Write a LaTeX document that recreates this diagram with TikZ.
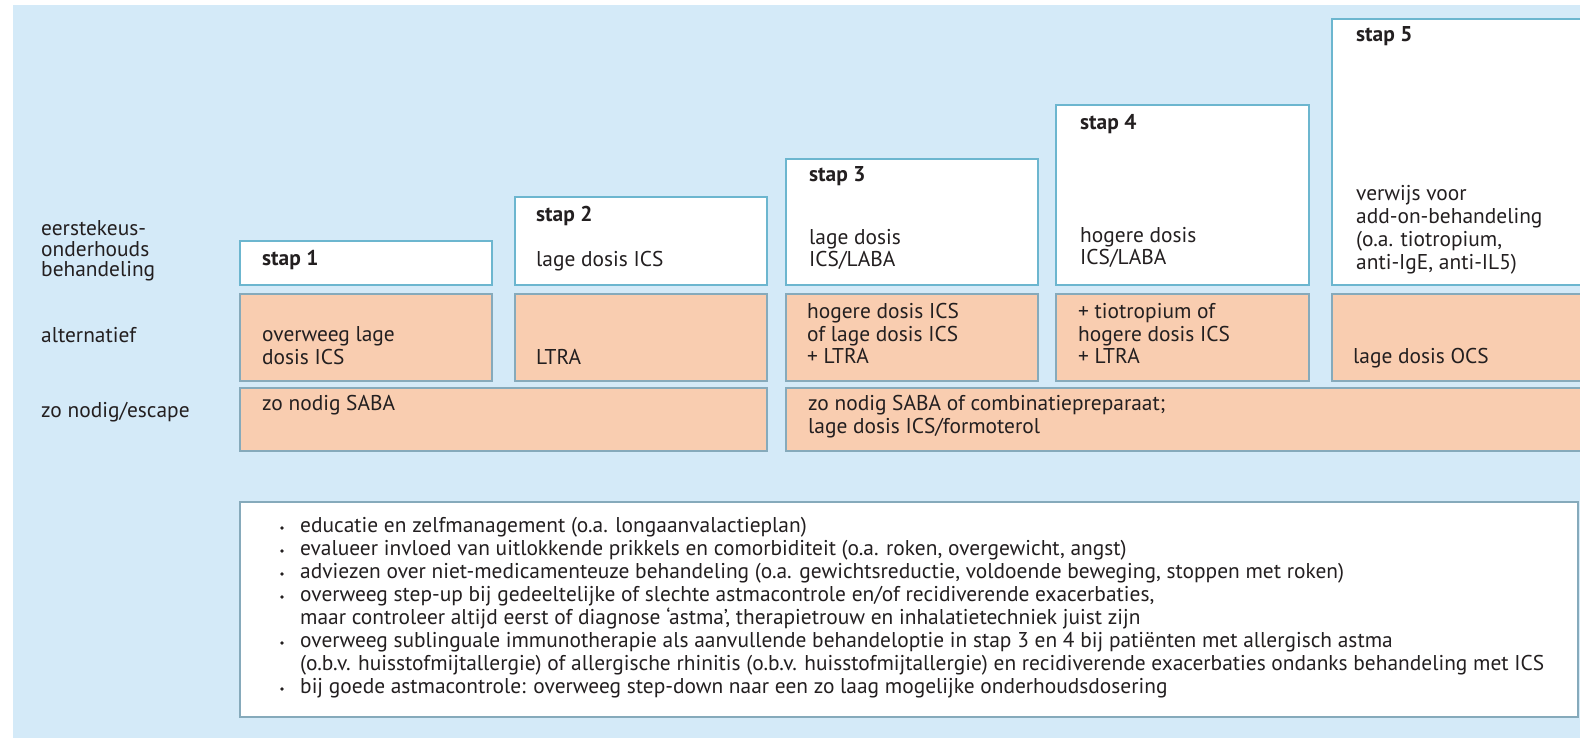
\documentclass[tikz,border=0pt]{standalone}
\usepackage{fontspec}
\setmainfont{PT Sans}
\definecolor{bg}{HTML}{D4EAF8}
\definecolor{bordc}{HTML}{6CB6CF}
\definecolor{pbord}{HTML}{86AABB}
\definecolor{peach}{HTML}{F9CDB0}
\definecolor{txtc}{HTML}{231F20}
\begin{document}
\begin{tikzpicture}[x=1pt,y=-1pt,
  txt/.style={anchor=mid west, inner sep=0pt, font=\fontsize{21.4}{23}\selectfont, text=txtc},
  hd/.style={txt, font=\fontsize{21.4}{23}\selectfont\bfseries},
  bul/.style={circle, fill=txtc, inner sep=0pt, minimum size=3.6pt},
  wbox/.style={fill=white, draw=bordc, line width=1.6pt},
  pbox/.style={fill=peach, draw=pbord, line width=1.6pt},
  nbox/.style={fill=white, draw=pbord, line width=1.6pt},
]
\useasboundingbox (0,0) rectangle (1580,737);
\clip (0,0) rectangle (1580,737);
\fill[white] (0,0) rectangle (1580,737);
\fill[bg] (13,5) rectangle (1600,760);

% row labels
\node[txt] (l1a) at (41,233) {eerstekeus-};
\node[txt] (l1b) at (41,254) {onderhouds};
\node[txt] (l1c) at (41,274) {behandeling};
\node[txt] (l2) at (41,340) {alternatief};
\node[txt] (l3) at (41,415) {zo nodig/escape};

% white step boxes
\path[wbox] (240,241) rectangle (492,285);
\path[wbox] (515,197) rectangle (767,285);
\path[wbox] (786,159) rectangle (1038,285);
\path[wbox] (1056,105) rectangle (1309,285);
\path[wbox] (1332,19) rectangle (1600,285);

% alternative row
\path[pbox] (240,294) rectangle (492,381);
\path[pbox] (515,294) rectangle (767,381);
\path[pbox] (786,294) rectangle (1038,381);
\path[pbox] (1056,294) rectangle (1309,381);
\path[pbox] (1332,294) rectangle (1600,381);

% escape row
\path[pbox] (240,388) rectangle (767,451);
\path[pbox] (786,388) rectangle (1600,451);

% bottom box
\path[nbox] (240,502) rectangle (1578,717);

% step texts
\node[hd] (s1) at (262,263) {stap 1};
\node[hd] (s2) at (536,219) {stap 2};
\node[txt] (s2a) at (536,264) {lage dosis ICS};
\node[hd] (s3) at (809,179) {stap 3};
\node[txt] (s3a) at (809,242) {lage dosis};
\node[txt] (s3b) at (809,264) {ICS/LABA};
\node[hd] (s4) at (1080,127) {stap 4};
\node[txt] (s4a) at (1080,240) {hogere dosis};
\node[txt] (s4b) at (1080,262) {ICS/LABA};
\node[hd] (s5) at (1356,39) {stap 5};
\node[txt] (s5a) at (1356,198) {verwijs voor};
\node[txt] (s5b) at (1356,221) {add-on-behandeling};
\node[txt] (s5c) at (1356,244) {(o.a. tiotropium,};
\node[txt] (s5d) at (1356,267) {anti-IgE, anti-IL5)};

% alternative texts
\node[txt] (a1a) at (262,339) {overweeg lage};
\node[txt] (a1b) at (262,362) {dosis ICS};
\node[txt] (a2) at (536,362) {LTRA};
\node[txt] (a3a) at (807,316) {hogere dosis ICS};
\node[txt] (a3b) at (807,339) {of lage dosis ICS};
\node[txt] (a3c) at (807,361) {+ LTRA};
\node[txt] (a4a) at (1078,316) {+ tiotropium of};
\node[txt] (a4b) at (1078,339) {hogere dosis ICS};
\node[txt] (a4c) at (1078,361) {+ LTRA};
\node[txt] (a5) at (1353,361) {lage dosis OCS};

% escape texts
\node[txt] (e1) at (262,408) {zo nodig SABA};
\node[txt] (e2a) at (808,408) {zo nodig SABA of combinatiepreparaat;};
\node[txt] (e2b) at (808,431) {lage dosis ICS/formoterol};

% bullets
\node[bul] (b1) at (282,528) {};
\node[txt] (t1) at (300,530) {educatie en zelfmanagement (o.a. longaanvalactieplan)};
\node[bul] (b2) at (282,551) {};
\node[txt] (t2) at (300,553) {evalueer invloed van uitlokkende prikkels en comorbiditeit (o.a. roken, overgewicht, angst)};
\node[bul] (b3) at (282,574) {};
\node[txt] (t3) at (300,576) {adviezen over niet-medicamenteuze behandeling (o.a. gewichtsreductie, voldoende beweging, stoppen met roken)};
\node[bul] (b4) at (282,597) {};
\node[txt] (t4) at (300,599) {overweeg step-up bij gedeeltelijke of slechte astmacontrole en/of recidiverende exacerbaties,};
\node[txt] (t4b) at (300,622) {maar controleer altijd eerst of diagnose ‘astma’, therapietrouw en inhalatietechniek juist zijn};
\node[bul] (b5) at (282,643) {};
\node[txt] (t5) at (300,645) {overweeg sublinguale immunotherapie als aanvullende behandeloptie in stap 3 en 4 bij patiënten met allergisch astma};
\node[txt] (t5b) at (300,668) {(o.b.v. huisstofmijtallergie) of allergische rhinitis (o.b.v. huisstofmijtallergie) en recidiverende exacerbaties ondanks behandeling met ICS};
\node[bul] (b6) at (282,689) {};
\node[txt] (t6) at (300,691) {bij goede astmacontrole: overweeg step-down naar een zo laag mogelijke onderhoudsdosering};
\end{tikzpicture}
\end{document}
